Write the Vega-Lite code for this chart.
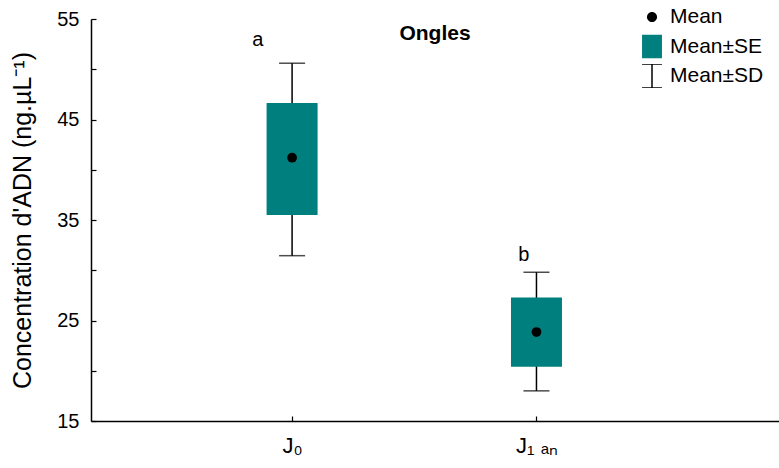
{
  "$schema": "https://vega.github.io/schema/vega-lite/v6.json",
  "width": 688,
  "height": 402,
  "autosize": {"type": "none"},
  "padding": {"left": 91, "top": 19, "right": 0, "bottom": 47},
  "background": "white",
  "config": {
    "font": "Liberation Sans",
    "view": {"stroke": null},
    "axis": {
      "grid": false,
      "domainColor": "black",
      "domainWidth": 1.5,
      "tickColor": "black",
      "tickWidth": 1.2,
      "labelColor": "black",
      "titleColor": "black",
      "labelFont": "Liberation Sans",
      "titleFont": "Liberation Sans",
      "labelFontSize": 20,
      "titleFontSize": 25,
      "titleFontWeight": "normal",
      "labelOverlap": false,
      "labelFlush": false
    }
  },
  "title": {
    "text": "Ongles",
    "font": "Liberation Sans",
    "fontSize": 21,
    "fontWeight": "bold",
    "color": "black",
    "anchor": "middle",
    "baseline": "alphabetic",
    "offset": -56
  },
  "datasets": {
    "stats": [
      {"group": "J₀", "pos": 1, "mean": 41.2, "se_lo": 35.5, "se_hi": 46.65, "sd_lo": 31.45, "sd_hi": 50.6},
      {"group": "J₁ ₐₙ", "pos": 2, "mean": 23.85, "se_lo": 20.4, "se_hi": 27.3, "sd_lo": 18.0, "sd_hi": 29.8}
    ],
    "letters": [
      {"letter": "a", "x": 0.86, "y": 52.9},
      {"letter": "b", "x": 1.948, "y": 31.5}
    ],
    "legend": [
      {"item": "Mean"},
      {"item": "Mean±SE"},
      {"item": "Mean±SD"}
    ]
  },
  "layer": [
    {
      "data": {"name": "stats"},
      "mark": {"type": "rule", "color": "black", "strokeWidth": 1.5},
      "encoding": {
        "x": {
          "field": "pos", "type": "quantitative",
          "scale": {"domain": [0.1976, 2.972], "nice": false, "zero": false},
          "axis": {
            "values": [1, 2],
            "labelExpr": "datum.value == 1 ? 'J₀' : 'J₁ ₐₙ'",
            "labelFontSize": 22,
            "tickSize": -5,
            "labelPadding": 19,
            "title": null
          }
        },
        "y": {
          "field": "sd_lo", "type": "quantitative",
          "scale": {"domain": [15, 55], "nice": false, "zero": false},
          "axis": {
            "values": [15, 20, 25, 30, 35, 40, 45, 50, 55],
            "labelExpr": "datum.value % 10 == 5 ? datum.label : ''",
            "tickSize": -5,
            "labelPadding": 17,
            "title": "Concentration d'ADN (ng.µL⁻¹)",
            "titlePadding": 21
          }
        },
        "y2": {"field": "sd_hi"}
      }
    },
    {
      "data": {"name": "stats"},
      "mark": {"type": "tick", "orient": "horizontal", "size": 26, "thickness": 1.5, "color": "black"},
      "encoding": {
        "x": {"field": "pos", "type": "quantitative"},
        "y": {"field": "sd_hi", "type": "quantitative"}
      }
    },
    {
      "data": {"name": "stats"},
      "mark": {"type": "tick", "orient": "horizontal", "size": 26, "thickness": 1.5, "color": "black"},
      "encoding": {
        "x": {"field": "pos", "type": "quantitative"},
        "y": {"field": "sd_lo", "type": "quantitative"}
      }
    },
    {
      "data": {"name": "stats"},
      "mark": {"type": "bar", "size": 51, "color": "#007F7F"},
      "encoding": {
        "x": {"field": "pos", "type": "quantitative"},
        "y": {"field": "se_lo", "type": "quantitative"},
        "y2": {"field": "se_hi"}
      }
    },
    {
      "data": {"name": "stats"},
      "mark": {"type": "point", "filled": true, "shape": "circle", "size": 95, "color": "black", "opacity": 1},
      "encoding": {
        "x": {"field": "pos", "type": "quantitative"},
        "y": {"field": "mean", "type": "quantitative"}
      }
    },
    {
      "data": {"name": "letters"},
      "mark": {"type": "text", "font": "Liberation Sans", "fontSize": 20, "color": "black", "baseline": "middle", "align": "center"},
      "encoding": {
        "x": {"field": "x", "type": "quantitative"},
        "y": {"field": "y", "type": "quantitative"},
        "text": {"field": "letter"}
      }
    },
    {
      "data": {"name": "legend"},
      "mark": {"type": "point", "filled": true, "opacity": 0, "strokeWidth": 1.5},
      "encoding": {
        "shape": {
          "field": "item", "type": "nominal",
          "scale": {
            "domain": ["Mean", "Mean±SE", "Mean±SD"],
            "range": [
              "M-0.42,0A0.42,0.42,0,1,0,0.42,0A0.42,0.42,0,1,0,-0.42,0Z",
              "M-0.83,-1H0.83V1H-0.83Z",
              "M-0.83,-1H0.83M0,-1V1M-0.83,1H0.83"
            ]
          },
          "legend": {
            "orient": "none",
            "legendX": 548,
            "legendY": -14,
            "title": null,
            "padding": 0,
            "symbolSize": 576,
            "symbolOpacity": 1,
            "symbolStrokeWidth": 1.5,
            "labelFont": "Liberation Sans",
            "labelFontSize": 21,
            "labelColor": "black",
            "labelOffset": 5,
            "clipHeight": 24,
            "rowPadding": 5.5
          }
        },
        "color": {
          "field": "item", "type": "nominal",
          "scale": {"domain": ["Mean", "Mean±SE", "Mean±SD"], "range": ["black", "#007F7F", "transparent"]},
          "legend": {
            "orient": "none",
            "legendX": 548,
            "legendY": -14,
            "title": null,
            "padding": 0,
            "symbolSize": 576,
            "symbolOpacity": 1,
            "symbolStrokeWidth": 1.5,
            "labelFont": "Liberation Sans",
            "labelFontSize": 21,
            "labelColor": "black",
            "labelOffset": 5,
            "clipHeight": 24,
            "rowPadding": 5.5
          }
        },
        "stroke": {
          "field": "item", "type": "nominal",
          "scale": {"domain": ["Mean", "Mean±SE", "Mean±SD"], "range": ["transparent", "transparent", "black"]},
          "legend": {
            "orient": "none",
            "legendX": 548,
            "legendY": -14,
            "title": null,
            "padding": 0,
            "symbolSize": 576,
            "symbolOpacity": 1,
            "symbolStrokeWidth": 1.5,
            "labelFont": "Liberation Sans",
            "labelFontSize": 21,
            "labelColor": "black",
            "labelOffset": 5,
            "clipHeight": 24,
            "rowPadding": 5.5
          }
        }
      }
    }
  ]
}
